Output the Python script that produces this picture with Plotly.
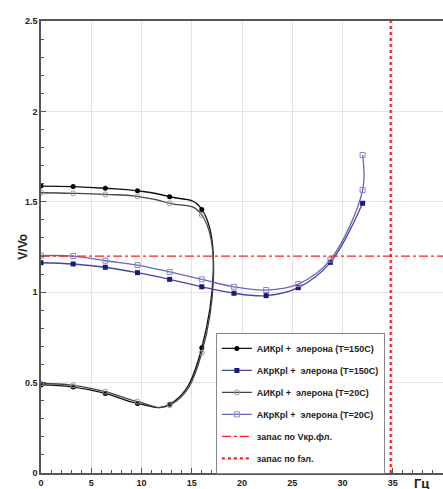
import plotly.graph_objects as go

# --- data ---
x_step = [0, 3.2, 6.4, 9.6, 12.8, 16.0]
x_blue = [0, 3.2, 6.4, 9.6, 12.8, 16.0, 19.2, 22.4, 25.6, 28.8, 32.0]

# АИКрl + элерона (T=150C): closed loop, lower branch then upper branch
aik150_low = [0.487, 0.475, 0.44, 0.385, 0.38, 0.693]
aik150_up = [1.587, 1.584, 1.575, 1.561, 1.528, 1.458]
# АИКрl + элерона (T=20C)
aik20_low = [0.495, 0.485, 0.45, 0.395, 0.375, 0.665]
aik20_up = [1.55, 1.547, 1.541, 1.53, 1.492, 1.427]

# АКрКрl + элерона
akr150 = [1.163, 1.156, 1.138, 1.108, 1.071, 1.03, 0.994, 0.981, 1.025, 1.165, 1.492]
akr20 = [1.202, 1.2, 1.174, 1.15, 1.112, 1.071, 1.03, 1.012, 1.045, 1.18, 1.565]
akr20_x_extra = [32.0]
akr20_extra = [1.759]

v_margin = 1.2      # запас по Vкр.фл.
f_margin = 34.8     # запас по fэл.

x_range = [0, 40]
y_range = [0, 2.5]

names = ["АИКрl +  элерона (T=150C)", "АКрКрl +  элерона (T=150C)",
         "АИКрl +  элерона (T=20C)", "АКрКрl +  элерона (T=20C)",
         "запас по Vкр.фл.", "запас по fэл."]

FONT = "Liberation Sans"

def loop(low, up):
    xs = list(x_step) + list(reversed(x_step))
    ys = list(low) + list(reversed(up))
    return xs, ys

fig = go.Figure()

xs, ys = loop(aik150_low, aik150_up)
fig.add_trace(go.Scatter(x=xs, y=ys, mode="lines+markers", name=names[0], legendgroup="g0",
    line=dict(color="#111111", width=1.3, shape="spline", smoothing=1.3),
    marker=dict(symbol="circle", size=5, color="#000000")))

fig.add_trace(go.Scatter(x=x_blue, y=akr150, mode="lines+markers", name=names[1], legendgroup="g1",
    line=dict(color="#4444aa", width=1.3, shape="spline", smoothing=1.0),
    marker=dict(symbol="square", size=5, color="#1a1a7a")))

xs, ys = loop(aik20_low, aik20_up)
fig.add_trace(go.Scatter(x=xs, y=ys, mode="lines+markers", name=names[2], legendgroup="g2",
    line=dict(color="#444444", width=1.3, shape="spline", smoothing=1.3),
    marker=dict(symbol="circle-open", size=5, color="#999999", line=dict(width=1))))

fig.add_trace(go.Scatter(x=x_blue + akr20_x_extra, y=akr20 + akr20_extra, mode="lines+markers",
    name=names[3], legendgroup="g3",
    line=dict(color="#6666bb", width=1.3, shape="spline", smoothing=1.0),
    marker=dict(symbol="square-open", size=5, color="#8888cc", line=dict(width=1))))

fig.add_trace(go.Scatter(x=x_range, y=[v_margin, v_margin], mode="lines", name=names[4], legendgroup="g4",
    line=dict(color="#ff2020", width=1.3, dash="dashdot")))

fig.add_trace(go.Scatter(x=[f_margin, f_margin], y=y_range, mode="lines", name=names[5], legendgroup="g5",
    line=dict(color="#ff2020", width=2.2, dash="dot")))

fig.add_annotation(x=37.9, y=0, xref="x", yref="y", yshift=-10, text="Гц", showarrow=False,
    font=dict(family=FONT, size=13, color="#222222", weight="bold"))
fig.add_annotation(x=-0.068, y=0.5, xref="paper", yref="paper", text="V/Vo", textangle=-90,
    showarrow=False, font=dict(family=FONT, size=12, color="#222222", weight="bold"))

axis_common = dict(showgrid=True, gridcolor="#e4e4e4", gridwidth=1, zeroline=False,
                   showline=True, linecolor="#555555", linewidth=1.5, automargin=False,
                   ticks="inside", ticklen=5, tickcolor="#555555",
                   tickfont=dict(family=FONT, size=9, color="#222222", weight="bold"))

fig.update_layout(
    width=443, height=489,
    margin=dict(l=41, r=0, t=21, b=16),
    paper_bgcolor="white", plot_bgcolor="white",
    showlegend=True,
    legend=dict(x=0.435, y=0.31, xanchor="left", yanchor="top",
                bgcolor="white", bordercolor="#888888", borderwidth=1,
                font=dict(family=FONT, size=9, color="#222222", weight="bold"),
                tracegroupgap=3, itemwidth=30),
    xaxis=dict(range=x_range, dtick=5, mirror=True,
               minor=dict(dtick=1, ticks="inside", ticklen=3, tickcolor="#555555", showgrid=False),
               **axis_common),
    yaxis=dict(range=y_range, dtick=0.5,
               minor=dict(dtick=0.1, ticks="inside", ticklen=3, tickcolor="#555555", showgrid=False),
               **axis_common),
)

fig.write_html("out.html")
